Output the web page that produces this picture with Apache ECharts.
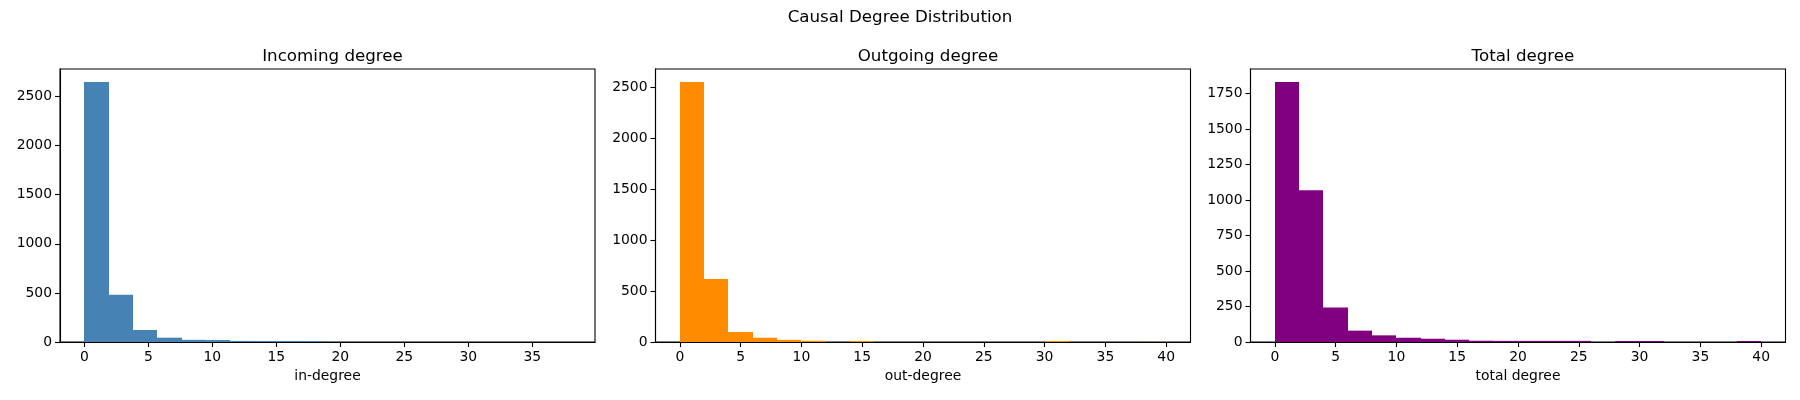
<!DOCTYPE html>
<html>
<head>
<meta charset="utf-8">
<script src="https://cdn.jsdelivr.net/npm/echarts@6/dist/echarts.min.js"></script>
<style>html,body{margin:0;padding:0;background:#fff}#c{width:1800px;height:400px}</style>
</head>
<body>
<div id="c"></div>
<script>
// ---- data ----
const suptitle = 'Causal Degree Distribution';
const panelTitles = ['Incoming degree', 'Outgoing degree', 'Total degree'];
const xLabels = ['in-degree', 'out-degree', 'total degree'];

const inBinEdges = [0, 1.9, 3.8, 5.7, 7.6, 9.5, 11.4, 13.3, 15.2, 17.1, 19.0, 20.9, 22.8, 24.7, 26.6, 28.5, 30.4, 32.3, 34.2, 36.1, 38.0];
const inCounts   = [2648, 480, 122, 44, 22, 20, 11, 10, 9, 8, 0, 0, 0, 0, 0, 0, 0, 0, 0, 1];

const outBinEdges = [0, 2, 4, 6, 8, 10, 12, 14, 16, 18, 20, 22, 24, 26, 28, 30, 32, 34, 36, 38, 40];
const outCounts   = [2552, 619, 98, 42, 21, 12, 0, 10, 0, 0, 0, 0, 0, 0, 0, 9, 0, 0, 0, 1];

const totalBinEdges = [0, 2, 4, 6, 8, 10, 12, 14, 16, 18, 20, 22, 24, 26, 28, 30, 32, 34, 36, 38, 40];
const totalCounts   = [1832, 1069, 243, 80, 47, 30, 23, 16, 9, 8, 8, 8, 8, 0, 7, 7, 0, 0, 0, 7];

const inXTicks = [0, 5, 10, 15, 20, 25, 30, 35];
const outXTicks = [0, 5, 10, 15, 20, 25, 30, 35, 40];
const totalXTicks = [0, 5, 10, 15, 20, 25, 30, 35, 40];
const inYTicks = [0, 500, 1000, 1500, 2000, 2500];
const outYTicks = [0, 500, 1000, 1500, 2000, 2500];
const totalYTicks = [0, 250, 500, 750, 1000, 1250, 1500, 1750];

const colors = ['#4682B4', '#FF8C00', '#800080'];

// ---- chart ----
const FONT = 'DejaVu Sans';
const panels = [
  {edges: inBinEdges, counts: inCounts, xt: inXTicks, yt: inYTicks},
  {edges: outBinEdges, counts: outCounts, xt: outXTicks, yt: outYTicks},
  {edges: totalBinEdges, counts: totalCounts, xt: totalXTicks, yt: totalYTicks}
];
const gridLefts = [60, 655.5, 1250.5];
const gridW = 535, gridTop = 69, gridH = 273;
const plain = v => String(v);

const grids = [], xAxes = [], yAxes = [], series = [], titles = [];
titles.push({text: suptitle, left: 'center', top: 4,
  textStyle: {fontFamily: FONT, fontSize: 16.7, fontWeight: 'normal', color: '#000'}});

panels.forEach((p, i) => {
  const lo = p.edges[0], hi = p.edges[p.edges.length - 1];
  const pad = (hi - lo) * 0.05;
  const ymax = Math.max(...p.counts) * 1.05;
  grids.push({left: gridLefts[i], top: gridTop, width: gridW, height: gridH,
    show: true, borderColor: '#000', borderWidth: 1.1, backgroundColor: 'transparent', containLabel: false});
  titles.push({text: panelTitles[i], left: gridLefts[i] + gridW / 2, top: 43, textAlign: 'center',
    textStyle: {fontFamily: FONT, fontSize: 16.7, fontWeight: 'normal', color: '#000'}});
  xAxes.push({type: 'value', gridIndex: i, min: lo - pad, max: hi + pad,
    name: xLabels[i], nameLocation: 'middle', nameGap: 26,
    nameTextStyle: {fontFamily: FONT, fontSize: 13.9, color: '#000'},
    axisLine: {show: true, onZero: false, lineStyle: {color: '#000', width: 1.1}},
    axisTick: {show: true, length: 5, customValues: p.xt, lineStyle: {color: '#000', width: 1.1}},
    axisLabel: {customValues: p.xt, formatter: plain, margin: 8, fontFamily: FONT, fontSize: 13.9, color: '#000'},
    splitLine: {show: false}});
  yAxes.push({type: 'value', gridIndex: i, min: 0, max: ymax,
    axisLine: {show: true, onZero: false, lineStyle: {color: '#000', width: 1.1}},
    axisTick: {show: true, length: 5, customValues: p.yt, lineStyle: {color: '#000', width: 1.1}},
    axisLabel: {customValues: p.yt, formatter: plain, margin: 8, fontFamily: FONT, fontSize: 13.9, color: '#000'},
    splitLine: {show: false}});
  const data = p.counts.map((c, k) => [p.edges[k], p.edges[k + 1], c]);
  const col = colors[i];
  series.push({type: 'custom', xAxisIndex: i, yAxisIndex: i, data: data,
    encode: {x: [0, 1], y: 2}, silent: true, animation: false,
    renderItem: function (params, api) {
      const a = api.coord([api.value(0), api.value(2)]);
      const b = api.coord([api.value(1), 0]);
      const x0 = Math.round(a[0]), x1 = Math.round(b[0]);
      return {type: 'rect', shape: {x: x0, y: a[1], width: x1 - x0, height: b[1] - a[1]},
        style: {fill: col}};
    }});
});

const chart = echarts.init(document.getElementById('c'), null, {renderer: 'canvas'});
chart.setOption({backgroundColor: '#fff', animation: false, title: titles,
  grid: grids, xAxis: xAxes, yAxis: yAxes, series: series});
</script>
</body>
</html>
